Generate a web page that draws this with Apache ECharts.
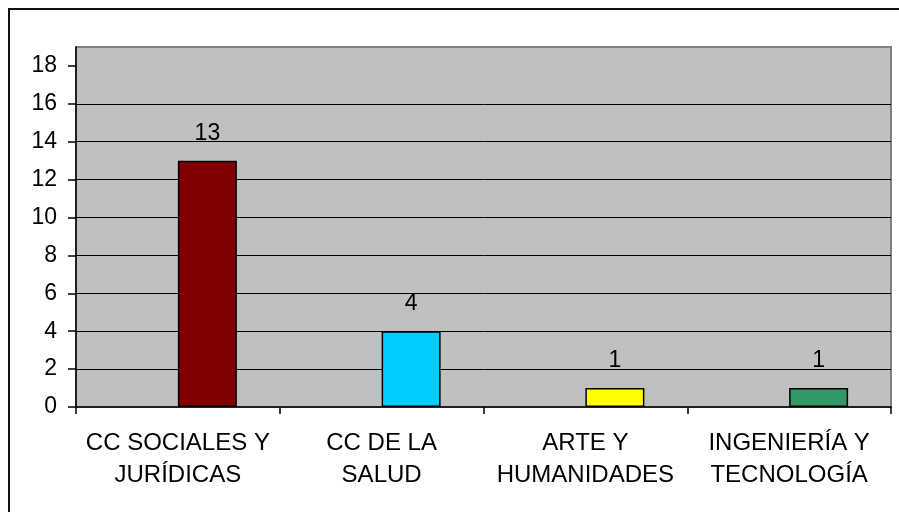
<!DOCTYPE html>
<html>
<head>
<meta charset="utf-8">
<script src="https://cdn.jsdelivr.net/npm/echarts@6/dist/echarts.min.js"></script>
<style>
html,body{margin:0;padding:0;background:#fff;}
#chart{width:899px;height:512px;}
</style>
</head>
<body>
<div id="chart"></div>
<script>
const categories = ['CC SOCIALES Y\nJURÍDICAS', 'CC DE LA\nSALUD', 'ARTE Y\nHUMANIDADES', 'INGENIERÍA Y\nTECNOLOGÍA'];
const values = [13, 4, 1, 1];
const barColors = ['#800000', '#00ccff', '#ffff00', '#339966'];
const yTicks = [0, 2, 4, 6, 8, 10, 12, 14, 16, 18];

const chart = echarts.init(document.getElementById('chart'), null, {renderer: 'canvas'});
const font = 'Liberation Sans, Arial, sans-serif';

const option = {
  animation: false,
  backgroundColor: '#fff',
  textStyle: {fontFamily: font},
  graphic: [{
    type: 'rect',
    shape: {x: 9, y: 9, width: 900, height: 520},
    style: {fill: 'none', stroke: '#111', lineWidth: 2},
    silent: true
  }],
  grid: {
    left: 76, top: 47, right: 8, bottom: 105,
    show: true, backgroundColor: '#c0c0c0', borderColor: '#808080', borderWidth: 2
  },
  xAxis: {
    type: 'category',
    data: categories,
    axisLine: {lineStyle: {color: '#000', width: 1.5}},
    axisTick: {show: true, length: 7, lineStyle: {color: '#000', width: 1.5}},
    axisLabel: {
      interval: 0, color: '#000', fontSize: 24, lineHeight: 32, margin: 20,
      fontFamily: font, align: 'center'
    },
    splitLine: {show: false}
  },
  yAxis: {
    type: 'value',
    min: 0, max: 19, interval: 2,
    axisLine: {show: true, lineStyle: {color: '#000', width: 1.5}},
    axisTick: {show: true, length: 8, customValues: yTicks, lineStyle: {color: '#000', width: 1.5}},
    axisLabel: {customValues: yTicks, color: '#000', fontSize: 23, margin: 19, fontFamily: font},
    splitLine: {show: true, showMinLine: false, showMaxLine: false, lineStyle: {color: '#000', width: 1}}
  },
  series: [
    {type: 'bar', name: 'blank', data: [], barWidth: 59, barGap: '0%'},
    {
      type: 'bar', name: 'values',
      barWidth: 59, barGap: '0%',
      data: values.map((v, i) => ({value: v, itemStyle: {color: barColors[i]}})),
      itemStyle: {borderColor: '#000', borderWidth: 1.5},
      label: {show: true, position: 'top', distance: 16, color: '#000', fontSize: 23, fontFamily: font}
    }
  ]
};
chart.setOption(option);
</script>
</body>
</html>
